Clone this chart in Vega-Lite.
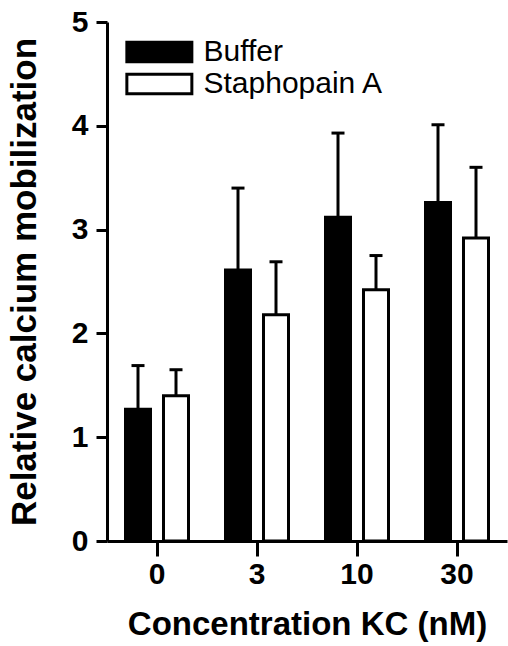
{
  "$schema": "https://vega.github.io/schema/vega-lite/v6.json",
  "autosize": "none",
  "padding": {"left": 107, "top": 22, "right": 1, "bottom": 105},
  "width": 400,
  "height": 519,
  "background": "white",
  "config": {
    "view": {"stroke": null},
    "font": "Liberation Sans",
    "axis": {"grid": false, "domainColor": "black", "domainWidth": 3, "tickColor": "black", "tickWidth": 3, "labelColor": "black", "titleColor": "black", "labelFont": "Liberation Sans", "titleFont": "Liberation Sans", "labelFontWeight": "bold", "titleFontWeight": "bold"}
  },
  "data": {
    "values": [
      {"conc": "0", "group": "Buffer", "value": 1.27, "upper": 1.69},
      {"conc": "0", "group": "Staphopain A", "value": 1.40, "upper": 1.65},
      {"conc": "3", "group": "Buffer", "value": 2.61, "upper": 3.40},
      {"conc": "3", "group": "Staphopain A", "value": 2.18, "upper": 2.69},
      {"conc": "10", "group": "Buffer", "value": 3.12, "upper": 3.93},
      {"conc": "10", "group": "Staphopain A", "value": 2.42, "upper": 2.75},
      {"conc": "30", "group": "Buffer", "value": 3.26, "upper": 4.01},
      {"conc": "30", "group": "Staphopain A", "value": 2.92, "upper": 3.60}
    ]
  },
  "encoding": {
    "x": {
      "field": "conc", "type": "ordinal", "sort": ["0", "3", "10", "30"],
      "scale": {"paddingInner": 0.37, "paddingOuter": 0.185},
      "axis": {"title": "Concentration KC (nM)", "labelAngle": 0, "labelFontSize": 30, "titleFontSize": 33, "tickSize": 15, "labelPadding": 3, "titlePadding": 19}
    },
    "xOffset": {
      "field": "group", "type": "nominal", "sort": ["Buffer", "Staphopain A"],
      "scale": {"paddingInner": 0.342, "paddingOuter": 0}
    }
  },
  "layer": [
    {
      "mark": {"type": "rule", "color": "black", "strokeWidth": 3},
      "encoding": {
        "y": {"field": "value", "type": "quantitative"},
        "y2": {"field": "upper"}
      }
    },
    {
      "mark": {"type": "tick", "color": "black", "thickness": 3, "size": 13, "opacity": 1},
      "encoding": {
        "y": {"field": "upper", "type": "quantitative"}
      }
    },
    {
      "mark": {"type": "bar", "stroke": "black", "strokeWidth": 3, "opacity": 1},
      "encoding": {
        "y": {
          "field": "value", "type": "quantitative",
          "scale": {"domain": [0, 5], "nice": false},
          "axis": {"title": "Relative calcium mobilization", "values": [0, 1, 2, 3, 4, 5], "format": "d", "labelFontSize": 30, "titleFontSize": 35, "tickSize": 11, "labelPadding": 8, "titlePadding": 29}
        },
        "color": {
          "field": "group", "type": "nominal", "sort": ["Buffer", "Staphopain A"],
          "scale": {"range": ["black", "white"]},
          "legend": {
            "title": null,
            "orient": "none",
            "legendX": 14.5,
            "legendY": 15,
            "padding": 0,
            "symbolType": "M-1,-1H5.74V1H-1Z",
            "symbolSize": 372,
            "symbolStrokeColor": "black",
            "symbolStrokeWidth": 3,
            "symbolOpacity": 1,
            "labelFont": "Liberation Sans",
            "labelFontSize": 30,
            "labelColor": "black",
            "labelOffset": 52,
            "rowPadding": 0,
            "labelLimit": 300
          }
        }
      }
    }
  ]
}
